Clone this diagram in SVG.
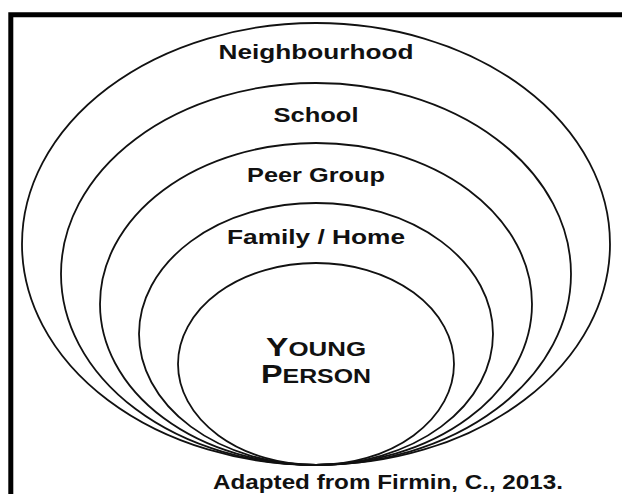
<svg xmlns="http://www.w3.org/2000/svg" width="622" height="494" viewBox="0 0 622 494">
<style>
.ring{fill:none;stroke:#111;stroke-width:1.8}
.lbl{font-family:"Liberation Sans",Arial,sans-serif;font-weight:bold;font-size:19.5px;fill:#111;text-anchor:middle}
.big{font-size:26px}
.sc{font-size:20px}
</style>
<rect width="622" height="494" fill="#fff"/>
<path d="M10.8 494 V14.8 H622" fill="none" stroke="#000" stroke-width="5"/>
<g id="neighbourhood">
<ellipse class="ring" cx="316" cy="244" rx="294" ry="221"/>
<text class="lbl" x="316" y="59" textLength="195" lengthAdjust="spacingAndGlyphs">Neighbourhood</text>
</g>
<g id="school">
<ellipse class="ring" cx="316" cy="274" rx="255" ry="191"/>
<text class="lbl" x="316" y="122" textLength="85" lengthAdjust="spacingAndGlyphs">School</text>
</g>
<g id="peer-group">
<ellipse class="ring" cx="316" cy="304" rx="216" ry="161"/>
<text class="lbl" x="316" y="182" textLength="138" lengthAdjust="spacingAndGlyphs">Peer Group</text>
</g>
<g id="family-home">
<ellipse class="ring" cx="316" cy="334" rx="177" ry="131"/>
<text class="lbl" x="316" y="244" textLength="178" lengthAdjust="spacingAndGlyphs">Family / Home</text>
</g>
<g id="young-person">
<ellipse class="ring" cx="316" cy="364" rx="138" ry="101"/>
<text class="lbl" x="316" y="356" textLength="100" lengthAdjust="spacingAndGlyphs"><tspan class="big">Y</tspan><tspan class="sc">OUNG</tspan></text>
<text class="lbl" x="316" y="383" textLength="110" lengthAdjust="spacingAndGlyphs"><tspan class="big">P</tspan><tspan class="sc">ERSON</tspan></text>
</g>
<g id="connectors"></g>
<text class="lbl" x="388" y="489" textLength="350" lengthAdjust="spacingAndGlyphs">Adapted from Firmin, C., 2013.</text>
</svg>
